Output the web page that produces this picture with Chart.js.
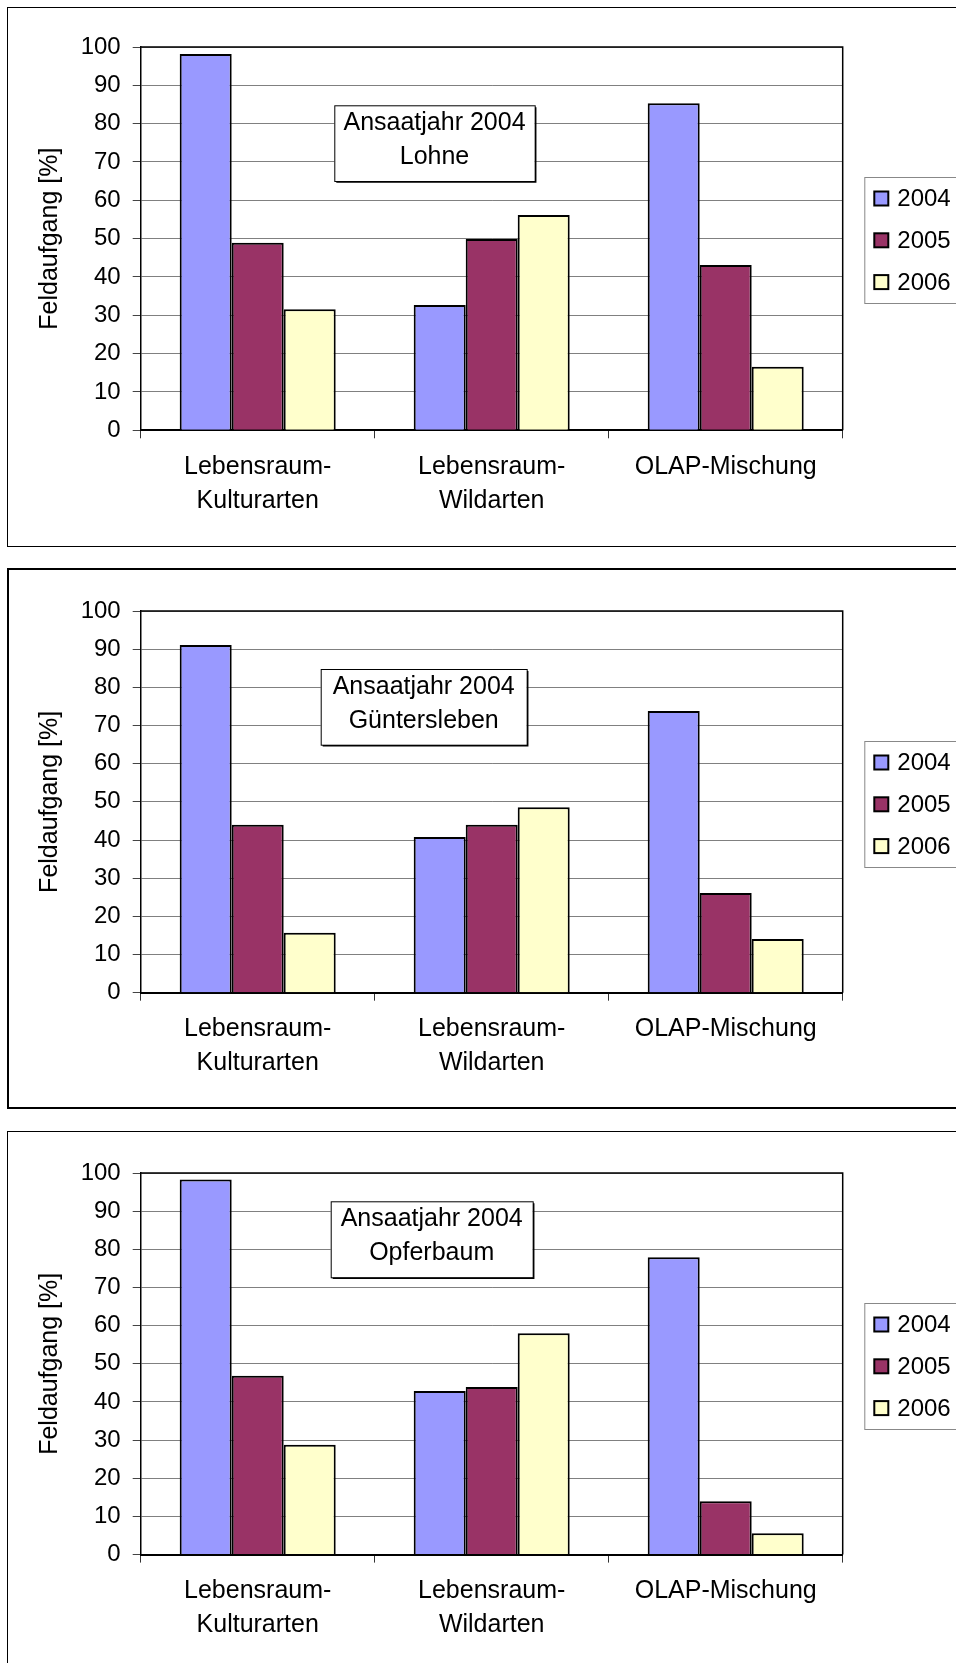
<!DOCTYPE html>
<html>
<head>
<meta charset="utf-8">
<script src="https://cdn.jsdelivr.net/npm/chart.js@4.4.1/dist/chart.umd.min.js"></script>
<style>
html, body { margin: 0; padding: 0; background: #fff; }
body { width: 956px; height: 1663px; position: relative; overflow: hidden; }
.frame { position: absolute; left: 7px; width: 1000px; border: 1px solid #000; box-sizing: border-box; }
canvas { position: absolute; left: 0; }
</style>
</head>
<body>
<div class="frame" style="top:7px;height:540px;"></div>
<div class="frame" style="top:568px;height:541px;border-width:2px;"></div>
<div class="frame" style="top:1131px;height:600px;"></div>
<canvas id="chart1" width="956" height="520"></canvas>
<canvas id="chart2" width="956" height="520"></canvas>
<canvas id="chart3" width="956" height="520"></canvas>
<script>
// Daten
const categories = [['Lebensraum-', 'Kulturarten'], ['Lebensraum-', 'Wildarten'], 'OLAP-Mischung'];
const years = ['2004', '2005', '2006'];
const yTicks = [0, 10, 20, 30, 40, 50, 60, 70, 80, 90, 100];
const yTitle = 'Feldaufgang [%]';

const lohne2004 = [98.2, 32.7, 85.3];
const lohne2005 = [48.9, 49.9, 43.1];
const lohne2006 = [31.6, 56.2, 16.6];

const guentersleben2004 = [91.1, 40.8, 73.8];
const guentersleben2005 = [44.0, 44.0, 26.1];
const guentersleben2006 = [15.7, 48.6, 14.1];

const opferbaum2004 = [98.3, 42.9, 77.9];
const opferbaum2005 = [46.9, 43.9, 14.0];
const opferbaum2006 = [28.8, 58.0, 5.6];

const sites = ['Lohne', 'Güntersleben', 'Opferbaum'];
const seriesBySite = [
    [lohne2004, lohne2005, lohne2006],
    [guentersleben2004, guentersleben2005, guentersleben2006],
    [opferbaum2004, opferbaum2005, opferbaum2006]
];

const colors = ['#9999ff', '#993366', '#ffffcc'];
const fontFamily = '"Liberation Sans", Arial, sans-serif';

// Layout der drei Diagramme
const panels = [
    { id: 'chart1', plotTop: 46.7, plotHeight: 383.3, note: { dx: 193.6, dy: 58.3, w: 200.4, h: 75.7 } },
    { id: 'chart2', plotTop: 611.0, plotHeight: 381.7, note: { dx: 180.0, dy: 58.0, w: 206.0, h: 75.7 } },
    { id: 'chart3', plotTop: 1172.7, plotHeight: 381.6, note: { dx: 190.0, dy: 28.3, w: 202.0, h: 76.0 } }
];
const padTop = 40;
const canvasHeight = 520;
const plotLeft = 140.7;
const plotRight = 842.7;

// Rahmen der Zeichenfläche, Textfeld und Legende
const decorPlugin = {
    id: 'decor',
    beforeDatasetsDraw(chart) {
        const a = chart.chartArea;
        const ctx = chart.ctx;
        ctx.save();
        ctx.strokeStyle = '#000';
        ctx.lineWidth = 1.5;
        ctx.beginPath();
        ctx.moveTo(a.left, a.top);
        ctx.lineTo(a.right, a.top);
        ctx.lineTo(a.right, a.bottom);
        ctx.stroke();
        ctx.restore();
    },
    afterDraw(chart, args, opts) {
        const a = chart.chartArea;
        const ctx = chart.ctx;
        ctx.save();
        // Textfeld
        const n = opts.note;
        const x = a.left + n.dx, y = a.top + n.dy;
        ctx.fillStyle = '#fff';
        ctx.fillRect(x, y, n.w, n.h);
        ctx.strokeStyle = '#000';
        ctx.lineWidth = 1;
        ctx.strokeRect(x + 0.5, y + 0.5, n.w, n.h);
        ctx.lineWidth = 1.5;
        ctx.beginPath();
        ctx.moveTo(x + 2, y + n.h + 1);
        ctx.lineTo(x + n.w + 1, y + n.h + 1);
        ctx.lineTo(x + n.w + 1, y + 2);
        ctx.stroke();
        ctx.fillStyle = '#000';
        ctx.font = '25px ' + fontFamily;
        ctx.textAlign = 'center';
        ctx.textBaseline = 'middle';
        opts.lines.forEach((line, i) => {
            ctx.fillText(line, x + n.w / 2, y + 18 + i * 34);
        });
        // Legende
        const lx = a.right + 21.6, ly = a.top + 130;
        ctx.strokeStyle = '#888';
        ctx.lineWidth = 1;
        ctx.strokeRect(lx + 0.5, ly + 0.5, 200, 126);
        ctx.font = '24px ' + fontFamily;
        ctx.textAlign = 'left';
        chart.data.datasets.forEach((ds, i) => {
            const cy = ly + 21.5 + i * 41.8;
            ctx.fillStyle = ds.backgroundColor;
            ctx.fillRect(lx + 10, cy - 7, 14, 14);
            ctx.strokeStyle = '#000';
            ctx.lineWidth = 2;
            ctx.strokeRect(lx + 10, cy - 7, 14, 14);
            ctx.fillStyle = '#000';
            ctx.fillText(ds.label, lx + 33, cy + 1);
        });
        ctx.restore();
    }
};

panels.forEach((p, k) => {
    const canvas = document.getElementById(p.id);
    canvas.style.top = (p.plotTop - padTop) + 'px';
    new Chart(canvas, {
        type: 'bar',
        data: {
            labels: categories,
            datasets: years.map((year, i) => ({
                label: year,
                data: seriesBySite[k][i],
                backgroundColor: colors[i],
                borderColor: '#000',
                borderWidth: 2,
                borderSkipped: 'bottom',
                categoryPercentage: 2 / 3,
                barPercentage: 1
            }))
        },
        options: {
            responsive: false,
            animation: false,
            devicePixelRatio: 1,
            layout: {
                padding: { top: padTop, right: 956 - plotRight, bottom: 0, left: 0 }
            },
            plugins: {
                legend: { display: false },
                tooltip: { enabled: false },
                decor: { note: p.note, lines: ['Ansaatjahr 2004', sites[k]] }
            },
            scales: {
                x: {
                    afterFit: function(scale) {
                        scale.height = canvasHeight - padTop - p.plotHeight;
                    },
                    grid: {
                        offset: true,
                        drawOnChartArea: false,
                        drawTicks: true,
                        tickLength: 8,
                        color: '#333'
                    },
                    border: { display: true, color: '#000', width: 2 },
                    ticks: {
                        color: '#000',
                        padding: 12,
                        maxRotation: 0,
                        autoSkip: false,
                        font: { family: fontFamily, size: 25, lineHeight: 1.35 }
                    }
                },
                y: {
                    min: 0,
                    max: 100,
                    afterFit: function(scale) {
                        scale.width = plotLeft;
                    },
                    afterBuildTicks: function(scale) {
                        scale.ticks = yTicks.map(v => ({ value: v }));
                    },
                    grid: {
                        color: '#808080',
                        lineWidth: 1,
                        tickLength: 8,
                        tickColor: '#444'
                    },
                    border: { display: true, color: '#000', width: 1.5 },
                    ticks: {
                        color: '#000',
                        padding: 12,
                        font: { family: fontFamily, size: 24 }
                    },
                    title: {
                        display: true,
                        text: yTitle,
                        color: '#000',
                        padding: { top: 35, bottom: 0 },
                        font: { family: fontFamily, size: 25 }
                    }
                }
            }
        },
        plugins: [decorPlugin]
    });
});
</script>
</body>
</html>
